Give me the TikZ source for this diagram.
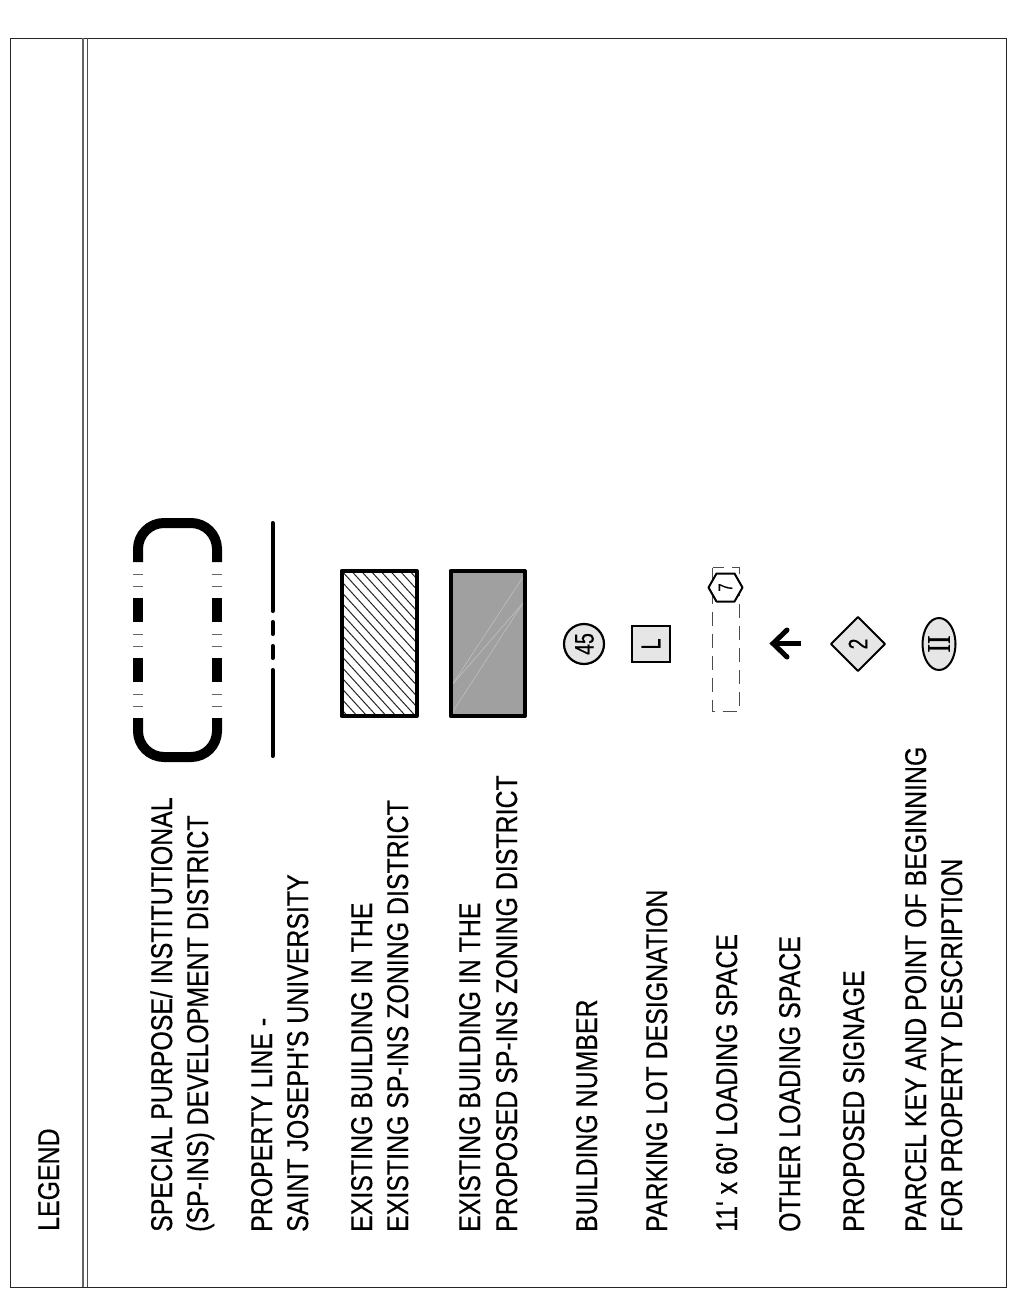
\documentclass[tikz,border=0pt]{standalone}
\usepackage{fontspec}
\usetikzlibrary{shapes.geometric}
\setmainfont[FakeStretch=0.83,FakeBold=0.4,Ligatures=TeXOff]{Liberation Sans}
\newfontfamily\symfont[FakeStretch=0.72,FakeBold=0.4]{Liberation Sans}
\newfontfamily\serifsym[FakeStretch=0.78,FakeBold=0.8]{Liberation Serif}
\definecolor{symfill}{HTML}{E6E6E6}
\definecolor{bldgrey}{HTML}{A0A0A0}
\tikzset{
  x=1pt,y=-1pt,
  lbl/.style={rotate=90,anchor=base west,inner sep=0pt,font=\fontsize{30}{30}\selectfont},
  symtxt/.style={rotate=90,inner sep=0pt,font=\symfont\fontsize{27}{27}\selectfont},
  tick/.style={line width=1pt,draw=black!60},
  band/.style={line width=10pt,draw=black},
  pline/.style={line width=4pt,line cap=round},
  bldg/.style={line width=4pt,line join=round},
  artefact/.style={line width=.6pt,draw=#1},
}
\begin{document}
\begin{tikzpicture}
\useasboundingbox (0,0) rectangle (1010,1292);
% frame
\draw[line width=1pt,draw=black!85] (10.5,38.5) rectangle (1006,1287);
\draw[line width=1.3pt,draw=black!60] (83,38) -- (83,1287);
\draw[line width=1.3pt,draw=black!70] (87.5,38) -- (87.5,1287);
% texts
\node[lbl] (legend) at (59,1231) {LEGEND};
\node[lbl] (a1) at (172,1232) {SPECIAL PURPOSE/ INSTITUTIONAL};
\node[lbl] (a2) at (208,1232) {(SP-INS) DEVELOPMENT DISTRICT};
\node[lbl] (b1) at (272,1232) {PROPERTY LINE -};
\node[lbl] (b2) at (308,1232) {SAINT JOSEPH'S UNIVERSITY};
\node[lbl] (c1) at (372,1232) {EXISTING BUILDING IN THE};
\node[lbl] (c2) at (408,1232) {EXISTING SP-INS ZONING DISTRICT};
\node[lbl] (d1) at (480,1232) {EXISTING BUILDING IN THE};
\node[lbl] (d2) at (517,1232) {PROPOSED SP-INS ZONING DISTRICT};
\node[lbl] (e) at (597,1232) {BUILDING NUMBER};
\node[lbl] (f) at (667,1232) {PARKING LOT DESIGNATION};
\node[lbl] (g) at (737,1232) {11' x 60' LOADING SPACE};
\node[lbl] (h) at (800,1232) {OTHER LOADING SPACE};
\node[lbl] (i) at (864,1232) {PROPOSED SIGNAGE};
\node[lbl] (j1) at (926,1232) {PARCEL KEY AND POINT OF BEGINNING};
\node[lbl] (j2) at (962,1232) {FOR PROPERTY DESCRIPTION};
% district symbol
\draw[band,rounded corners=26pt] (138,562) -- (138,523) -- (217,523) -- (217,562);
\draw[band,rounded corners=26pt] (138,718) -- (138,757) -- (217,757) -- (217,718);
\foreach \px in {138,217}{
  \draw[band] (\px,598) -- (\px,622);
  \draw[band] (\px,658) -- (\px,682);
  \foreach \py in {574,586,634,646,694,706}
    \draw[tick] (\px-5,\py) -- (\px+5,\py);
}
% property line
\draw[pline] (272.5,523) -- (272.5,611);
\draw[pline] (272.5,622) -- (272.5,634);
\draw[pline] (272.5,646) -- (272.5,658);
\draw[pline] (272.5,670) -- (272.5,756);
% hatched building
\begin{scope}
\clip (341.5,571) rectangle (416.5,716);
\foreach \k in {-20,...,9}
  \draw[line width=1pt,draw=black!85] (340+\k*9.7,569) -- ++(150,165);
\end{scope}
\draw[bldg] (341.5,571) rectangle (416.5,716);
% grey building
\fill[bldgrey] (451,572) rectangle (525,716);
\draw[artefact=black!25] (452,685) -- (523,577);
\draw[artefact=black!25] (452,685) -- (523,603);
\draw[artefact=black!25] (452,713) -- (523,603);
\draw[bldg] (450.5,571) rectangle (525,716);
% building number
\node[circle,draw,line width=2.2pt,fill=symfill,minimum size=40pt,inner sep=0pt] (bn) at (584,644) {};
\node[symtxt] (bnt) at (584.5,644) {45};
% parking lot
\node[rectangle,draw,line width=2.2pt,fill=symfill,minimum width=38pt,minimum height=36pt,inner sep=0pt] (pl) at (651,644) {};
\node[symtxt] (plt) at (651,644) {L};
% loading space
\draw[line width=1pt,draw=black!70,dash pattern=on 14pt off 8pt] (712.5,567.5) rectangle (739,711.5);
\draw[line width=2pt,line join=round,fill=white] (708.5,587.5) -- (716.5,573.5) -- (734.5,573.5) -- (742.5,587.5) -- (734.5,601.5) -- (716.5,601.5) -- cycle;
\node[symtxt,font=\symfont\fontsize{20}{20}\selectfont] (lst) at (725.5,587.5) {7};
% other loading space arrow
\coordinate (arE) at (801,643.5);
\coordinate (arT) at (773,643.5);
\draw[line width=5pt] (arE) -- (arT);
\draw[line width=5pt,line cap=round,miter limit=10] (787,630) -- (arT) -- (787,657);
% signage
\draw[line width=2pt,line join=round,fill=symfill] (858,617) -- (885,644) -- (858,671) -- (831,644) -- cycle;
\node[symtxt] (sgt) at (858,644) {2};
% parcel key
\node[ellipse,draw,line width=2pt,fill=symfill,minimum width=33pt,minimum height=52pt,inner sep=0pt] (pk) at (939,644) {};
\node[symtxt,font=\serifsym\fontsize{33}{33}\selectfont] (pkt) at (939,644) {II};
\end{tikzpicture}
\end{document}
